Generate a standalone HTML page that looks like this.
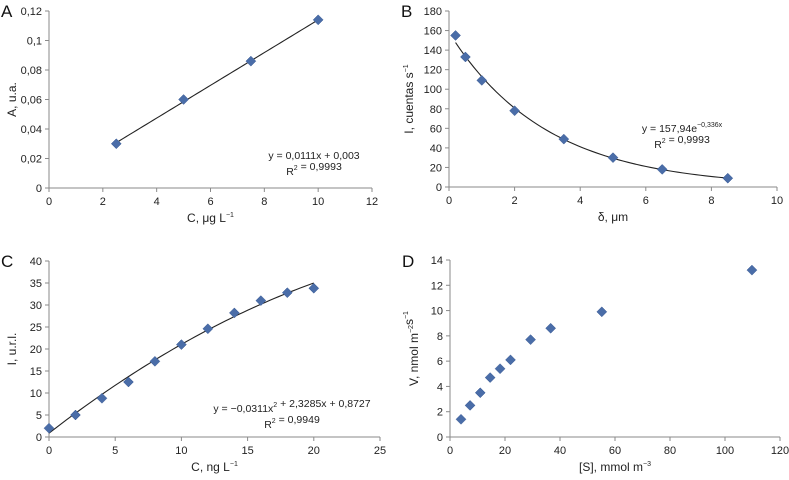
<!DOCTYPE html>
<html><head><meta charset="utf-8"><style>
html,body{margin:0;padding:0;background:#fff;}
svg{display:block;font-family:"Liberation Sans",sans-serif;}
</style></head><body>
<svg id="fig" width="789" height="480" viewBox="0 0 789 480"></svg>
<script>
// Panel A data
const aX = [2.5, 5, 7.5, 10];
const aY = [0.030, 0.060, 0.086, 0.114];
const aXTicks = ["0","2","4","6","8","10","12"];
const aYTicks = ["0","0,02","0,04","0,06","0,08","0,1","0,12"];
// Panel B data
const bX = [0.2, 0.5, 1, 2, 3.5, 5, 6.5, 8.5];
const bY = [155, 133, 109, 78, 49, 30, 18, 9];
const bXTicks = ["0","2","4","6","8","10"];
const bYTicks = ["0","20","40","60","80","100","120","140","160","180"];
// Panel C data
const cX = [0, 2, 4, 6, 8, 10, 12, 14, 16, 18, 20];
const cY = [2, 5, 8.8, 12.5, 17.2, 21, 24.6, 28.2, 31, 32.8, 33.8];
const cXTicks = ["0","5","10","15","20","25"];
const cYTicks = ["0","5","10","15","20","25","30","35","40"];
// Panel D data
const dX = [4, 7.3, 11, 14.6, 18.2, 22, 29.3, 36.6, 55.2, 109.8];
const dY = [1.4, 2.5, 3.5, 4.7, 5.4, 6.1, 7.7, 8.6, 9.9, 13.2];
const dXTicks = ["0","20","40","60","80","100","120"];
const dYTicks = ["0","2","4","6","8","10","12","14"];

const NS = "http://www.w3.org/2000/svg";
const svg = document.getElementById('fig');
function mk(tag, attrs, parent, text){
  const e = document.createElementNS(NS, tag);
  for (const k in attrs) e.setAttribute(k, attrs[k]);
  if (text !== undefined) e.textContent = text;
  (parent || svg).appendChild(e);
  return e;
}

function panel(id, box, xMax, yMax, xTicks, yTicks, xs, ys, fit, label, xTitle, yTitle, eq){
  const g = mk('g', {});
  
  
  const sx = v => box.x0 + (v / xMax) * (box.x1 - box.x0);
  const sy = v => box.y1 - (v / yMax) * (box.y1 - box.y0);
  // axes
  const ax = mk('path', {d:`M${box.x0},${box.y0} V${box.y1} H${box.x1}`, stroke:'#8a8a8a', 'stroke-width':1, fill:'none'}, g);
  
  
  xTicks.forEach((t, i) => {
    const v = xMax * i / (xTicks.length - 1);
    const x = sx(v);
    mk('line', {x1:x, x2:x, y1:box.y1, y2:box.y1 + 4, stroke:'#8a8a8a'}, g);
    const tx = mk('text', {x:x, y:box.y1 + 17, 'text-anchor':'middle', 'font-size':11, fill:'#222'}, g, t);
    
    
  });
  yTicks.forEach((t, i) => {
    const v = yMax * i / (yTicks.length - 1);
    const y = sy(v);
    mk('line', {x1:box.x0 - 4, x2:box.x0, y1:y, y2:y, stroke:'#8a8a8a'}, g);
    const tx = mk('text', {x:box.x0 - 7, y:y + 4, 'text-anchor':'end', 'font-size':11, fill:'#222'}, g, t);
    
    
  });
  // fit line
  if (fit) {
    let d = '';
    const n = 60;
    for (let i = 0; i <= n; i++) {
      const v = fit.from + (fit.to - fit.from) * i / n;
      d += (i ? 'L' : 'M') + sx(v).toFixed(2) + ',' + sy(fit.f(v)).toFixed(2);
    }
    const p = mk('path', {d:d, stroke:'#222', 'stroke-width':1.1, fill:'none'}, g);
    
    
  }
  // markers
  xs.forEach((v, i) => {
    const x = sx(v), y = sy(ys[i]), r = 5;
    const m = mk('path', {d:`M${x},${y - r} L${x + r},${y} L${x},${y + r} L${x - r},${y} Z`, fill:'#4a6da8', stroke:'#3c5c95', 'stroke-width':0.5}, g);
    
    
  });
  // label
  const lb = mk('text', {x:box.lx, y:box.ly, 'font-size':17, fill:'#111'}, g, label);
  
  
  // x title
  const xt = mk('text', {x:(box.x0 + box.x1) / 2, y:box.y1 + 34, 'text-anchor':'middle', 'font-size':12, fill:'#222'}, g);
  
  
  xt.innerHTML = xTitle;
  // y title
  const yc = (box.y0 + box.y1) / 2;
  const yt = mk('text', {x:box.ytx, y:yc, 'text-anchor':'middle', 'font-size':12, fill:'#222', transform:`rotate(-90 ${box.ytx} ${yc})`}, g);
  
  
  yt.innerHTML = yTitle;
  // equation
  if (eq) {
    const e1 = mk('text', {x:eq.x, y:eq.y, 'text-anchor':'middle', 'font-size':10.5, fill:'#222'}, g);
    
    
    e1.innerHTML = eq.l1;
    const e2 = mk('text', {x:eq.x, y:eq.y + 16, 'text-anchor':'middle', 'font-size':10.5, fill:'#222'}, g);
    
    
    e2.innerHTML = eq.l2;
  }
}

const sup = s => `<tspan dy="-5" font-size="7">${s}</tspan><tspan dy="5"></tspan>`;

panel('a', {x0:49, x1:372, y0:11, y1:188, lx:1, ly:17, ytx:16}, 12, 0.12, aXTicks, aYTicks, aX, aY,
  {from:2.5, to:10, f:x => 0.0111 * x + 0.003}, 'A',
  'C, μg L' + sup('−1'), 'A, u.a.',
  {x:314, y:159, l1:'y = 0,0111x + 0,003', l2:'R' + sup('2') + ' = 0,9993'});

panel('b', {x0:449, x1:777, y0:11, y1:187, lx:401, ly:17, ytx:413}, 10, 180, bXTicks, bYTicks, bX, bY,
  {from:0.2, to:8.5, f:x => 157.94 * Math.exp(-0.336 * x)}, 'B',
  'δ, μm', 'I, cuentas s' + sup('−1'),
  {x:682, y:132, l1:'y = 157,94e' + sup('−0,336x'), l2:'R' + sup('2') + ' = 0,9993'});

panel('c', {x0:49, x1:380, y0:261, y1:437, lx:1, ly:267, ytx:16}, 25, 40, cXTicks, cYTicks, cX, cY,
  {from:0, to:20, f:x => -0.0311 * x * x + 2.3285 * x + 0.8727}, 'C',
  'C, ng L' + sup('−1'), 'I, u.r.l.',
  {x:292, y:412, l1:'y = −0,0311x' + sup('2') + ' + 2,3285x + 0,8727', l2:'R' + sup('2') + ' = 0,9949'});

panel('d', {x0:450, x1:780, y0:260, y1:437, lx:402, ly:267, ytx:418}, 120, 14, dXTicks, dYTicks, dX, dY,
  null, 'D',
  '[S], mmol m' + sup('−3'), 'V, nmol m' + sup('−2') + 's' + sup('−1'), null);
</script>
</body></html>
